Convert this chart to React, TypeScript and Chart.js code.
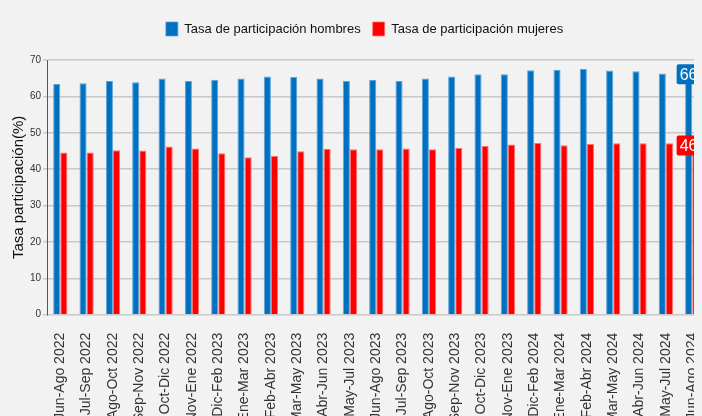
import React, { useEffect, useRef } from "react";
import { Chart, registerables } from "chart.js";
Chart.register(...registerables);

const categories = ["Jun-Ago 2022","Jul-Sep 2022","Ago-Oct 2022","Sep-Nov 2022","Oct-Dic 2022","Nov-Ene 2022","Dic-Feb 2023","Ene-Mar 2023","Feb-Abr 2023","Mar-May 2023","Abr-Jun 2023","May-Jul 2023","Jun-Ago 2023","Jul-Sep 2023","Ago-Oct 2023","Sep-Nov 2023","Oct-Dic 2023","Nov-Ene 2023","Dic-Feb 2024","Ene-Mar 2024","Feb-Abr 2024","Mar-May 2024","Abr-Jun 2024","May-Jul 2024","Jun-Ago 2024"];
const hombres = [63.4,63.6,64.2,63.9,64.9,64.2,64.6,64.9,65.5,65.3,64.9,64.2,64.5,64.2,64.9,65.5,66.1,66.1,67.2,67.3,67.5,67.1,66.9,66.3,66.1];
const mujeres = [44.6,44.6,45.2,45.1,46.2,45.7,44.4,43.3,43.6,44.9,45.6,45.5,45.5,45.7,45.5,45.9,46.4,46.8,47.2,46.6,46.9,47.1,47.1,47.1,46.5];
const yTicks = [0,10,20,30,40,50,60,70];

const lastLabel = {
  id: "lastLabel",
  afterDatasetsDraw(chart: any) {
    const ctx = chart.ctx;
    chart.data.datasets.forEach((ds: any, i: number) => {
      const meta = chart.getDatasetMeta(i);
      const el = meta.data[meta.data.length - 1];
      const v = ds.data[ds.data.length - 1];
      const txt = v.toFixed(1).replace(".", ",");
      ctx.save();
      ctx.font = "16px 'Liberation Sans', Arial";
      const w = ctx.measureText(txt).width + 6;
      const h = 20;
      const x = chart.getDatasetMeta(0).data[meta.data.length - 1].x - 12;
      const y = el.y;
      ctx.fillStyle = ds.backgroundColor;
      ctx.beginPath();
      ctx.roundRect(x, y - h / 2, w, h, 2);
      ctx.fill();
      ctx.fillStyle = "#fff";
      ctx.textBaseline = "middle";
      ctx.fillText(txt, x + 3, y + 1);
      ctx.restore();
    });
  },
};

const bg = {
  id: "bg",
  beforeDraw(chart: any) {
    const c = chart.ctx;
    c.save();
    c.fillStyle = "#f2f2f2";
    c.fillRect(0, 0, chart.width, chart.height);
    c.restore();
  },
};

const legendGap = {
  id: "legendGap",
  beforeInit(chart: any) {
    const fit = chart.legend.fit;
    chart.legend.fit = function () {
      fit.call(this);
      this.height += 14;
    };
  },
};

export default function App() {
  const ref = useRef<HTMLCanvasElement>(null);
  useEffect(() => {
    document.body.style.background = "#f2f2f2";
    const ch = new Chart(ref.current!, {
      type: "bar",
      data: {
        labels: categories,
        datasets: [
          { label: "Tasa de participación hombres", data: hombres, backgroundColor: "#0070c0", borderColor: "#5fa3da", borderWidth: { left: 1, right: 1, top: 1 } as any },
          { label: "Tasa de participación mujeres", data: mujeres, backgroundColor: "#ff0000", borderColor: "#ff7070", borderWidth: { left: 1, right: 1, top: 1 } as any },
        ],
      },
      options: {
        animation: false,
        responsive: false,
        layout: { padding: { top: 2, right: 0, left: 2, bottom: 0 } },
        datasets: { bar: { categoryPercentage: 0.54, barPercentage: 1 } },
        plugins: {
          tooltip: { enabled: false },
          legend: {
            labels: { boxWidth: 12, boxHeight: 14, font: { family: "'Liberation Sans', Arial", size: 13 }, color: "#111", padding: 12 },
          },
        },
        scales: {
          x: {
            grid: { display: false },
            border: { display: false },
            ticks: { maxRotation: 90, minRotation: 90, autoSkip: false, padding: 10, font: { family: "'Liberation Sans', Arial", size: 14 }, color: "#333" },
          },
          y: {
            min: 0, max: 70,
            afterBuildTicks: (s: any) => { s.ticks = yTicks.map((v) => ({ value: v })); },
            grid: { color: "#c8c8c8", lineWidth: 1.5, drawTicks: true, tickLength: 4 },
            border: { display: true, color: "#555" },
            ticks: { font: { family: "'Liberation Sans', Arial", size: 10 }, color: "#333", padding: 2 },
            title: { display: true, text: "Tasa participación(%)", font: { family: "'Liberation Sans', Arial", size: 15 }, color: "#111", padding: 0 },
          },
        },
      },
      plugins: [bg, legendGap, lastLabel],
    });
    return () => ch.destroy();
  }, []);
  return (
    <div style={{ width: 694, height: 408, overflow: "hidden" }}>
      <canvas ref={ref} width={711} height={425} style={{ width: 711, height: 425 }} />
    </div>
  );
}
